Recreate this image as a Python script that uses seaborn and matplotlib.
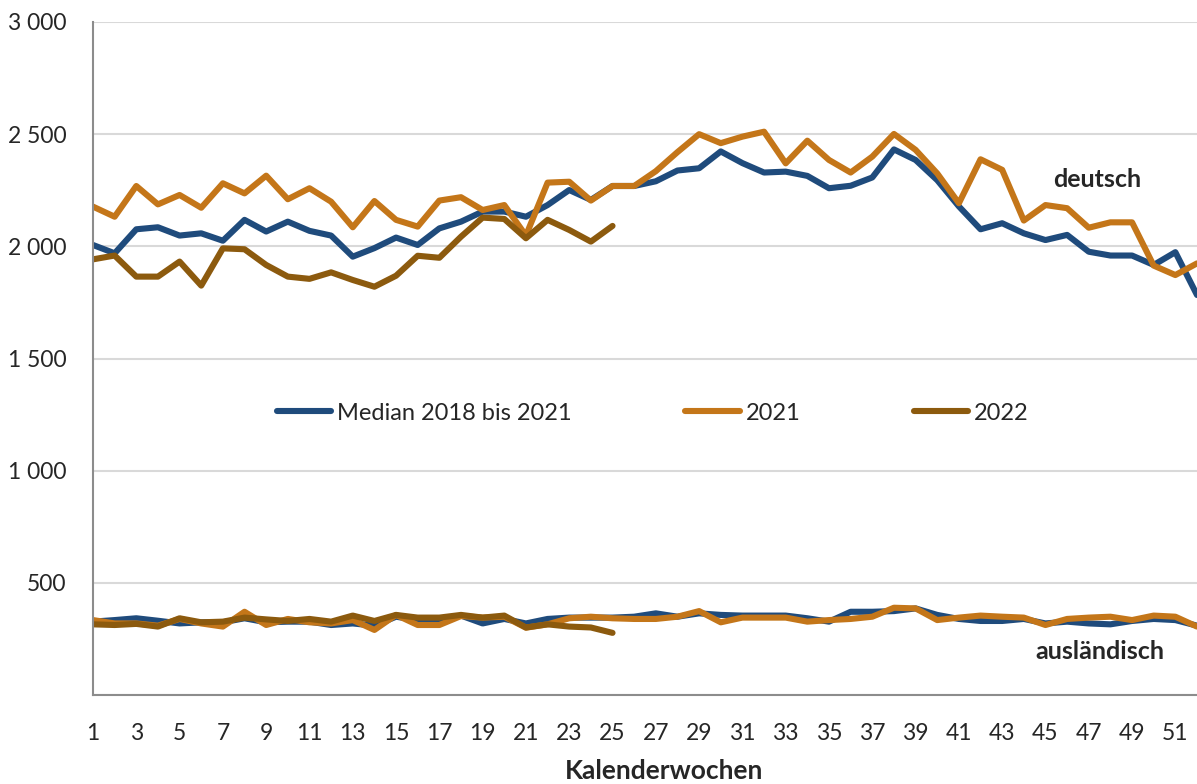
import numpy as np
import pandas as pd
import seaborn as sns
import matplotlib.pyplot as plt

wochen = list(range(1, 53))

median_deutsch = [2006, 1969, 2076, 2085, 2048, 2058, 2025, 2118, 2066, 2110, 2069, 2048, 1954,
                  1992, 2039, 2006, 2080, 2110, 2155, 2155, 2132, 2184, 2251, 2207, 2269, 2269,
                  2290, 2338, 2348, 2423, 2371, 2329, 2333, 2314, 2259, 2270, 2307, 2432, 2385,
                  2295, 2178, 2076, 2103, 2058, 2028, 2051, 1976, 1959, 1959, 1917, 1974, 1783]
deutsch_2021 = [2177, 2132, 2269, 2187, 2229, 2172, 2281, 2236, 2315, 2210, 2259, 2199, 2085,
                2202, 2118, 2088, 2204, 2219, 2162, 2184, 2048, 2284, 2288, 2204, 2269, 2269,
                2335, 2420, 2500, 2460, 2489, 2511, 2370, 2471, 2385, 2329, 2400, 2501, 2430,
                2325, 2192, 2388, 2341, 2115, 2184, 2170, 2083, 2107, 2107, 1914, 1872, 1924]
deutsch_2022 = [1942, 1959, 1865, 1865, 1932, 1825, 1991, 1987, 1917, 1865, 1855, 1884, 1850,
                1820, 1869, 1958, 1949, 2043, 2128, 2122, 2036, 2118, 2073, 2021, 2091]

median_ausl = [327, 334, 342, 331, 319, 324, 324, 342, 324, 327, 327, 312, 319,
               309, 349, 334, 334, 354, 319, 339, 319, 339, 345, 345, 345, 349,
               364, 349, 364, 357, 354, 354, 354, 342, 327, 371, 371, 374, 386,
               357, 339, 330, 330, 339, 319, 327, 319, 315, 330, 339, 334, 309]
ausl_2021 = [334, 319, 319, 309, 339, 319, 305, 371, 312, 339, 324, 319, 334,
             290, 357, 312, 312, 352, 345, 349, 300, 315, 342, 349, 342, 339,
             339, 349, 374, 324, 345, 345, 345, 327, 334, 339, 349, 389, 386,
             334, 345, 354, 349, 345, 312, 339, 345, 349, 334, 354, 349, 305]
ausl_2022 = [315, 312, 317, 305, 342, 324, 327, 345, 337, 330, 339, 327, 354,
             330, 357, 345, 345, 357, 345, 354, 301, 315, 305, 301, 277]

reihen = ["Median 2018 bis 2021", "2021", "2022"]
farben = ["#1F4B7C", "#C47619", "#8C5A0E"]

serien = [
    (reihen[0], "deutsch", median_deutsch),
    (reihen[1], "deutsch", deutsch_2021),
    (reihen[2], "deutsch", deutsch_2022),
    (reihen[0], "ausländisch", median_ausl),
    (reihen[1], "ausländisch", ausl_2021),
    (reihen[2], "ausländisch", ausl_2022),
]
rows = []
for reihe, gruppe, werte in serien:
    for w, v in zip(wochen, werte):
        rows.append({"Woche": w, "Wert": v, "Reihe": reihe, "Gruppe": gruppe})
df = pd.DataFrame(rows)

sns.set_style("white")
plt.rcParams['font.family'] = ['Lato', 'DejaVu Sans']

fig = plt.figure(figsize=(11.97, 7.84), dpi=100)
ax = fig.add_axes([93/1197, 89/784, 1104/1197, 673/784])

sns.lineplot(data=df, x="Woche", y="Wert", hue="Reihe", hue_order=reihen,
             units="Gruppe", estimator=None, palette=farben, linewidth=4.4,
             ax=ax, legend=True)
for ln in ax.get_lines():
    ln.set_solid_joinstyle("round")

ax.set_xlim(1, 52)
ax.set_ylim(0, 3000)
yt = list(range(0, 3001, 500))
ax.set_yticks(yt)
ax.set_yticklabels(["" if v == 0 else f"{v:,}".replace(",", " ") for v in yt])
ax.set_xticks(wochen)
ax.set_xticklabels([str(w) if w % 2 == 1 else "" for w in wochen])
ax.yaxis.grid(True, color="#d9d9d9", linewidth=1.5)
ax.set_axisbelow(True)
for s in ["top", "right"]:
    ax.spines[s].set_visible(False)
for s in ["left", "bottom"]:
    ax.spines[s].set_color("#8c8c8c")
    ax.spines[s].set_linewidth(1.5)
ax.tick_params(axis="y", length=6, width=1.5, color="#8c8c8c", labelsize=16.5, pad=13)
ax.tick_params(axis="x", length=6, width=1.5, color="#8c8c8c", labelsize=16.5, pad=14)
ax.set_xlabel("")
ax.set_ylabel("")

handles, labels = ax.get_legend_handles_labels()
ax.legend(handles, labels, ncol=3, loc="center", bbox_to_anchor=(0.507, 0.419),
          frameon=False, fontsize=17, handlelength=2.3, handletextpad=0.25,
          columnspacing=4.8)

ax.text(47.4, 2296, "deutsch", ha="center", va="center", fontsize=18, fontweight="bold")
ax.text(47.5, 196, "ausländisch", ha="center", va="center", fontsize=18, fontweight="bold")
fig.text(664/1197, 1 - 771/784, "Kalenderwochen", ha="center", va="center",
         fontsize=19, fontweight="bold")

plt.savefig("out.png", dpi=100)
